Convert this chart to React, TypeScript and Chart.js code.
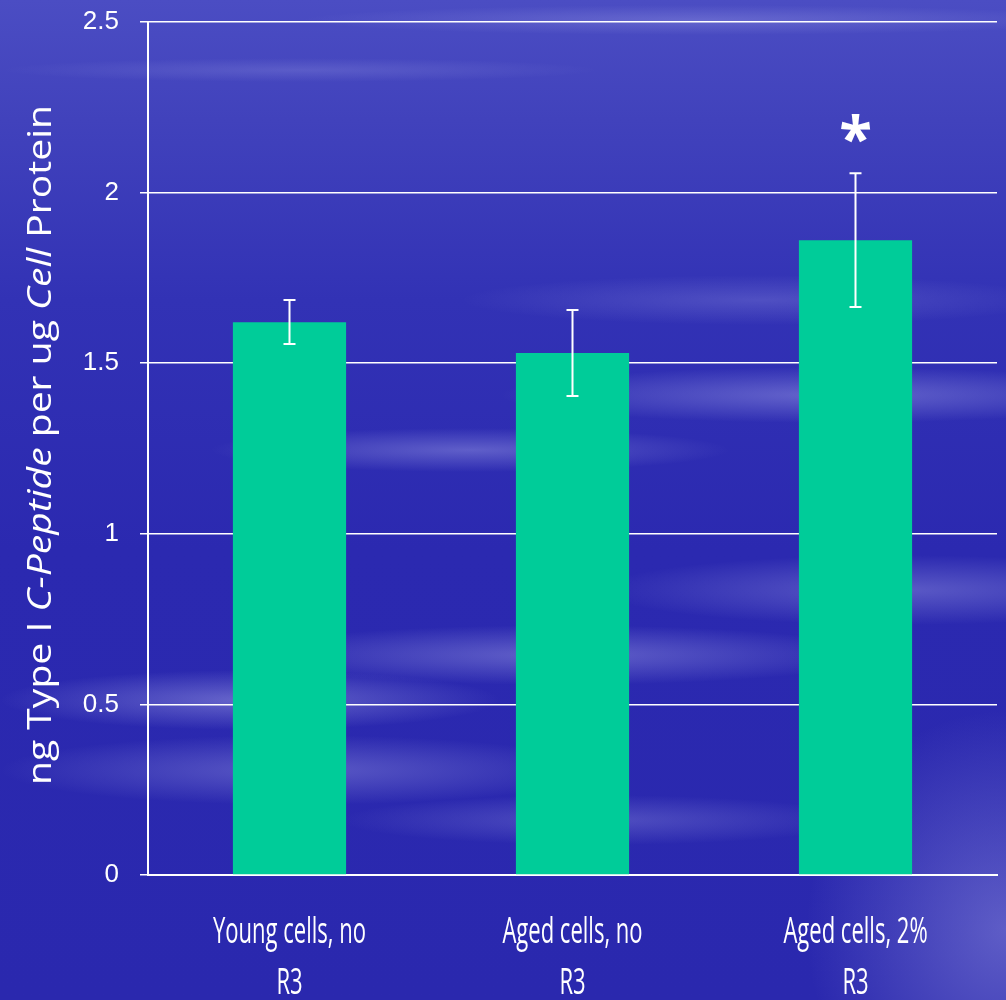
import React, { useEffect, useRef } from "react";
import { Chart, registerables } from "chart.js";

Chart.register(...registerables);

const categories: string[][] = [
  ["Young cells, no", "R3"],
  ["Aged cells, no", "R3"],
  ["Aged cells, 2%", "R3"],
];
const means: number[] = [1.62, 1.53, 1.86];
const errLow: number[] = [1.556, 1.404, 1.665];
const errHigh: number[] = [1.685, 1.656, 2.057];
const significant: boolean[] = [false, false, true];
const yTicks: number[] = [0, 0.5, 1, 1.5, 2, 2.5];

const FONT = "'Open Sans', 'DejaVu Sans', sans-serif";

const errorBarPlugin = {
  id: "errorBars",
  afterDatasetsDraw(chart: any) {
    const ctx = chart.ctx;
    const x = chart.scales.x;
    const y = chart.scales.y;
    ctx.save();
    ctx.strokeStyle = "#ffffff";
    ctx.lineWidth = 2;
    means.forEach((_, i) => {
      const cx = x.getPixelForValue(i);
      const yt = y.getPixelForValue(errHigh[i]);
      const yb = y.getPixelForValue(errLow[i]);
      ctx.beginPath();
      ctx.moveTo(cx, yt);
      ctx.lineTo(cx, yb);
      ctx.moveTo(cx - 6, yt);
      ctx.lineTo(cx + 6, yt);
      ctx.moveTo(cx - 6, yb);
      ctx.lineTo(cx + 6, yb);
      ctx.stroke();
      if (significant[i]) {
        ctx.fillStyle = "#ffffff";
        ctx.font = `bold 60px ${FONT}`;
        ctx.textAlign = "center";
        ctx.textBaseline = "middle";
        ctx.fillText("*", cx, yt - 30);
      }
    });
    ctx.restore();
  },
};

const labelPlugin = {
  id: "labels",
  afterDraw(chart: any) {
    const ctx = chart.ctx;
    const area = chart.chartArea;
    const x = chart.scales.x;
    ctx.save();
    ctx.fillStyle = "#ffffff";
    ctx.textBaseline = "middle";

    // x category labels (condensed)
    const xsize = 36;
    ctx.font = `${xsize}px ${FONT}`;
    const ref = ctx.measureText(categories[0][0]).width;
    const sx = 153 / ref;
    ctx.textAlign = "center";
    categories.forEach((lines, i) => {
      const cx = x.getPixelForValue(i);
      lines.forEach((line, j) => {
        ctx.save();
        ctx.translate(cx, area.bottom + 58 + j * 51);
        ctx.scale(sx, 1);
        ctx.fillText(line, 0, 0);
        ctx.restore();
      });
    });

    // y title with mixed italic
    const parts: [string, boolean][] = [
      ["ng Type I ", false],
      ["C-Peptide", true],
      [" per ug ", false],
      ["Cell", true],
      [" Protein", false],
    ];
    const size = 33;
    ctx.textAlign = "left";
    let total = 0;
    const widths = parts.map(([t, it]) => {
      ctx.font = `${it ? "italic " : ""}${size}px ${FONT}`;
      const w = ctx.measureText(t).width;
      total += w;
      return w;
    });
    const target = 680;
    const k = target / total;
    const cy = 445;
    ctx.translate(42, cy);
    ctx.rotate(-Math.PI / 2);
    ctx.scale(k, 1);
    let pos = -total / 2;
    parts.forEach(([t, it], i) => {
      ctx.font = `${it ? "italic " : ""}${size}px ${FONT}`;
      ctx.fillText(t, pos, 0);
      pos += widths[i];
    });
    ctx.restore();
  },
};

export default function App() {
  const ref = useRef<HTMLCanvasElement | null>(null);
  useEffect(() => {
    document.body.style.margin = "0";
    const chart = new Chart(ref.current as HTMLCanvasElement, {
      type: "bar",
      data: {
        labels: categories,
        datasets: [
          {
            data: means,
            backgroundColor: "#00cc99",
            borderWidth: 0,
            categoryPercentage: 1,
            barPercentage: 0.4,
          },
        ],
      },
      options: {
        animation: false,
        responsive: false,
        maintainAspectRatio: false,
        layout: { padding: { left: 0, right: 9, top: 22, bottom: 0 } },
        plugins: {
          legend: { display: false },
          tooltip: { enabled: false },
        },
        scales: {
          x: {
            grid: { display: false, drawTicks: false },
            border: { display: true, color: "#ffffff", width: 2 },
            ticks: { display: false },
            afterFit(scale: any) {
              scale.height = 125;
              scale.paddingLeft = 0;
              scale.paddingRight = 0;
            },
          },
          y: {
            min: 0,
            max: 2.5,
            afterBuildTicks(scale: any) {
              scale.ticks = yTicks.map((v) => ({ value: v }));
            },
            grid: {
              color: "#ffffff",
              lineWidth: 1.5,
              tickLength: 8,
              drawTicks: true,
            },
            border: { display: true, color: "#ffffff", width: 2 },
            ticks: {
              color: "#ffffff",
              font: { family: "'Liberation Sans', Arial, sans-serif", size: 26 },
              padding: 21,
              callback: (v: any) => String(v),
            },
            afterFit(scale: any) {
              scale.width = 148;
              scale.paddingTop = 0;
              scale.paddingBottom = 0;
            },
          },
        },
      },
      plugins: [errorBarPlugin, labelPlugin],
    });
    return () => chart.destroy();
  }, []);

  const bg = [
    "radial-gradient(ellipse 260px 22px at 470px 450px, rgba(210,210,255,0.3), transparent)",
    "radial-gradient(ellipse 330px 28px at 830px 395px, rgba(210,210,255,0.33), transparent)",
    "radial-gradient(ellipse 250px 30px at 250px 700px, rgba(215,215,255,0.35), transparent)",
    "radial-gradient(ellipse 320px 30px at 560px 655px, rgba(215,215,255,0.32), transparent)",
    "radial-gradient(ellipse 300px 35px at 300px 770px, rgba(215,215,255,0.28), transparent)",
    "radial-gradient(ellipse 300px 35px at 900px 590px, rgba(215,215,255,0.28), transparent)",
    "radial-gradient(ellipse 200px 220px at 1006px 930px, rgba(215,215,255,0.3), transparent)",
    "radial-gradient(ellipse 300px 25px at 760px 300px, rgba(215,215,255,0.18), transparent)",
    "radial-gradient(ellipse 260px 25px at 600px 820px, rgba(215,215,255,0.22), transparent)",
    "radial-gradient(ellipse 400px 15px at 700px 20px, rgba(215,215,255,0.2), transparent)",
    "radial-gradient(ellipse 300px 12px at 300px 70px, rgba(215,215,255,0.15), transparent)",
    "linear-gradient(180deg, #4b4dc3 0%, #4142bc 12%, #3232b5 30%, #2b29b0 55%, #2a28ae 100%)",
  ].join(", ");

  return (
    <div
      style={{
        position: "fixed",
        left: 0,
        top: 0,
        width: 1006,
        height: 1000,
        background: bg,
      }}
    >
      <canvas ref={ref} width={1006} height={1000} />
    </div>
  );
}
